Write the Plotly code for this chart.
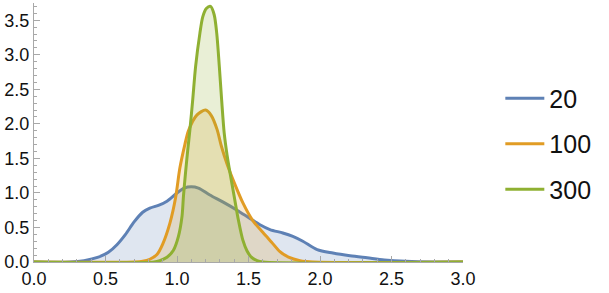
import plotly.graph_objects as go

# Series "20"
x20 = [0, 0.25, 0.35, 0.45, 0.52, 0.58, 0.64, 0.70, 0.76, 0.81, 0.87, 0.93, 1.00, 1.05, 1.10, 1.15,
       1.23, 1.32, 1.42, 1.51, 1.58, 1.65, 1.74, 1.81, 1.88, 1.98, 2.09, 2.21, 2.33, 2.45, 2.6, 2.8, 3.0]
y20 = [0, 0, 0.02, 0.07, 0.14, 0.25, 0.40, 0.58, 0.72, 0.78, 0.82, 0.88, 1.00, 1.07, 1.09, 1.07,
       0.97, 0.87, 0.75, 0.63, 0.54, 0.47, 0.42, 0.37, 0.30, 0.18, 0.13, 0.09, 0.06, 0.03, 0.01, 0, 0]

# Series "100"
x100 = [0, 0.70, 0.76, 0.81, 0.86, 0.90, 0.95, 0.99, 1.02, 1.055, 1.08, 1.14, 1.20, 1.24, 1.28, 1.31,
        1.35, 1.40, 1.46, 1.53, 1.60, 1.66, 1.72, 1.78, 1.86, 1.95, 3.0]
y100 = [0, 0, 0.01, 0.04, 0.11, 0.26, 0.56, 0.93, 1.36, 1.70, 1.90, 2.13, 2.20, 2.12, 1.92, 1.68,
        1.42, 1.15, 0.86, 0.60, 0.43, 0.29, 0.15, 0.07, 0.02, 0, 0]

# Series "300"
x300 = [0, 0.84, 0.88, 0.93, 0.975, 1.01, 1.035, 1.045, 1.06, 1.075, 1.09, 1.11, 1.13, 1.16, 1.18,
        1.205, 1.235, 1.26, 1.278, 1.296, 1.312, 1.33, 1.35, 1.37, 1.40, 1.43, 1.46, 1.49, 1.52, 1.56, 1.60, 3.0]
y300 = [0, 0, 0.02, 0.07, 0.17, 0.37, 0.66, 0.95, 1.30, 1.62, 1.91, 2.35, 2.83, 3.31, 3.55,
        3.67, 3.70, 3.58, 3.31, 2.83, 2.35, 1.87, 1.55, 1.30, 0.95, 0.60, 0.32, 0.16, 0.07, 0.02, 0, 0]

names = ["20", "100", "300"]
colors = [(94, 129, 181), (225, 156, 36), (143, 176, 50)]
xs = [x20, x100, x300]
ys = [y20, y100, y300]

fig = go.Figure()
for name, c, x, y in zip(names, colors, xs, ys):
    fig.add_trace(go.Scatter(
        x=x, y=y, name=name, mode="lines", showlegend=False,
        line=dict(color="rgb(%d,%d,%d)" % c, width=3, shape="spline", smoothing=0.8),
        fill="tozeroy", fillcolor="rgba(%d,%d,%d,0.2)" % c,
        cliponaxis=False,
    ))
# legend entries (line only)
for name, c in zip(names, colors):
    fig.add_trace(go.Scatter(
        x=[None], y=[None], name=name, mode="lines", legendgroup=name,
        line=dict(color="rgb(%d,%d,%d)" % c, width=3),
    ))

tickfont = dict(family="Liberation Sans, Arial, sans-serif", size=18, color="#111111")
axis_common = dict(
    showgrid=False, zeroline=False, showline=True, linecolor="#a8a8a8", linewidth=1,
    ticks="inside", ticklen=6, tickcolor="#a8a8a8", tickwidth=1,
    tickfont=tickfont, tickformat=".1f", dtick=0.5, tick0=0,
    minor=dict(ticks="inside", ticklen=3, tickcolor="#a8a8a8", dtick=0.1, tick0=0, showgrid=False),
)

fig.update_layout(
    width=609, height=293,
    margin=dict(l=34, r=146, t=3, b=31),
    paper_bgcolor="white", plot_bgcolor="white",
    xaxis=dict(range=[0, 3], **axis_common),
    yaxis=dict(range=[0, 3.75], **axis_common),
    legend=dict(
        x=1.087, xanchor="left", y=0.456, yanchor="middle",
        font=dict(family="Liberation Sans, Arial, sans-serif", size=25, color="#111111"),
        itemwidth=39, tracegroupgap=10, bgcolor="rgba(0,0,0,0)",
    ),
    showlegend=True,
)

fig.write_html("out.html")
